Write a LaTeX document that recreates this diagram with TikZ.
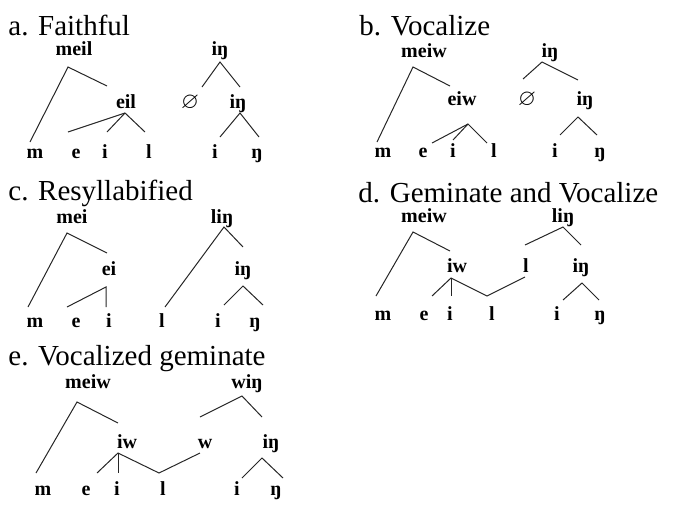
\documentclass[tikz,border=0pt]{standalone}
\usepackage{amssymb}
\usepackage{fontspec}
\setmainfont{Liberation Serif}

\begin{document}
\begin{tikzpicture}[x=0.5pt,y=-0.5pt,
  head/.style={font=\fontsize{14.5}{17}\selectfont, inner sep=0pt, anchor=base west},
  lab/.style={font=\bfseries\fontsize{10}{12}\selectfont, inner sep=0pt, anchor=base},
  nul/.style={font=\fontsize{11.5}{14}\selectfont, inner sep=0pt, anchor=base},
  br/.style={line width=0.5pt, black!85}]
\useasboundingbox (0,0) rectangle (673,504);
% headings
\node [head] (ha) at (8,35) {a. Faithful};
\node [head] (hb) at (359,35) {b. Vocalize};
\node [head] (hc) at (8,200) {c. Resyllabified};
\node [head] (hd) at (358,202) {d. Geminate and Vocalize};
\node [head] (he) at (8,365) {e. Vocalized geminate};
% a. Faithful
\node [lab] (a1) at (74,55) {meil};
\node [lab] (a2) at (126,108) {eil};
\node [lab] (am) at (35,158) {m};
\node [lab] (ae) at (76,158) {e};
\node [lab] (ai) at (105,158) {i};
\node [lab] (al) at (149,158) {l};
\node [lab] (a3) at (220,55) {iŋ};
\node [nul] (a0) at (190,108) {$\varnothing$};
\node [lab] (a4) at (238,108) {iŋ};
\node [lab] (ai2) at (215,158) {i};
\node [lab] (ang) at (257,158) {ŋ};
\draw [br] ([shift={(-5,-16)}]am.base) -- ([shift={(-6,12)}]a1.base) -- ([shift={(-19,-22)}]a2.base);
\draw [br] ([shift={(-8,-26)}]ae.base) -- ([shift={(-1,5)}]a2.base) -- ([shift={(-4,-26)}]al.base);
\draw [br] ([shift={(-1,5)}]a2.base) -- ([shift={(2,-26)}]ai.base);
\draw [br] ([shift={(12,-21)}]a0.base) -- ([shift={(0,7)}]a3.base) -- ([shift={(2,-21)}]a4.base);
\draw [br] ([shift={(5,-21)}]ai2.base) -- ([shift={(2,5)}]a4.base) -- ([shift={(2,-21)}]ang.base);
% b. Vocalize
\node [lab] (b1) at (424,57) {meiw};
\node [lab] (b2) at (462,105) {eiw};
\node [lab] (bm) at (383,157) {m};
\node [lab] (be) at (423,157) {e};
\node [lab] (bi) at (453,157) {i};
\node [lab] (bl) at (494,157) {l};
\node [lab] (b3) at (550,57) {iŋ};
\node [nul] (b0) at (527,105) {$\varnothing$};
\node [lab] (b4) at (585,105) {iŋ};
\node [lab] (bi2) at (555,157) {i};
\node [lab] (bng) at (600,157) {ŋ};
\draw [br] ([shift={(-6,-15)}]bm.base) -- ([shift={(-11,10)}]b1.base) -- ([shift={(-12,-19)}]b2.base);
\draw [br] ([shift={(9,-14)}]be.base) -- ([shift={(6,19)}]b2.base) -- ([shift={(-7,-14)}]bl.base);
\draw [br] ([shift={(6,19)}]b2.base) -- ([shift={(0,-17)}]bi.base);
\draw [br] ([shift={(-4,-26)}]b0.base) -- ([shift={(-8,5)}]b3.base) -- ([shift={(-7,-25)}]b4.base);
\draw [br] ([shift={(5,-22)}]bi2.base) -- ([shift={(-7,12)}]b4.base) -- ([shift={(-3,-22)}]bng.base);
% c. Resyllabified
\node [lab] (c1) at (72,223) {mei};
\node [lab] (c2) at (109,275) {ei};
\node [lab] (cm) at (35,327) {m};
\node [lab] (ce) at (76,327) {e};
\node [lab] (ci) at (109,327) {i};
\node [lab] (c3) at (222,223) {liŋ};
\node [lab] (c4) at (243,275) {iŋ};
\node [lab] (cl) at (162,327) {l};
\node [lab] (ci2) at (218,327) {i};
\node [lab] (cng) at (255,327) {ŋ};
\draw [br] ([shift={(-7,-20)}]cm.base) -- ([shift={(-5,10)}]c1.base) -- ([shift={(-2,-22)}]c2.base);
\draw [br] ([shift={(-9,-20)}]ce.base) -- ([shift={(-3,12)}]c2.base) -- ([shift={(-3,-20)}]ci.base);
\draw [br] ([shift={(3,-20)}]cl.base) -- ([shift={(2,4)}]c3.base) -- ([shift={(0,-28)}]c4.base);
\draw [br] ([shift={(6,-22)}]ci2.base) -- ([shift={(0,11)}]c4.base) -- ([shift={(8,-22)}]cng.base);
% d. Geminate and Vocalize
\node [lab] (d1) at (424,222) {meiw};
\node [lab] (d2) at (457,272) {iw};
\node [lab] (dm) at (383,320) {m};
\node [lab] (de) at (424,320) {e};
\node [lab] (di) at (450,320) {i};
\node [lab] (dl) at (492,320) {l};
\node [lab] (dl2) at (526,272) {l};
\node [lab] (d3) at (563,222) {liŋ};
\node [lab] (d4) at (581,272) {iŋ};
\node [lab] (di2) at (557,320) {i};
\node [lab] (dng) at (600,320) {ŋ};
\draw [br] ([shift={(-7,-24)}]dm.base) -- ([shift={(-11,10)}]d1.base) -- ([shift={(-7,-21)}]d2.base);
\draw [br] ([shift={(8,-24)}]de.base) -- ([shift={(-6,6)}]d2.base) -- ([shift={(-5,-24)}]dl.base) -- ([shift={(-1,5)}]dl2.base);
\draw [br] ([shift={(-6,6)}]d2.base) -- ([shift={(1,-24)}]di.base);
\draw [br] ([shift={(-1,-27)}]dl2.base) -- ([shift={(0,5)}]d3.base) -- ([shift={(0,-27)}]d4.base);
\draw [br] ([shift={(6,-20)}]di2.base) -- ([shift={(1,11)}]d4.base) -- ([shift={(-1,-20)}]dng.base);
% e. Vocalized geminate
\node [lab] (e1) at (88,388) {meiw};
\node [lab] (e2) at (127,448) {iw};
\node [lab] (em) at (43,495) {m};
\node [lab] (ee) at (86,495) {e};
\node [lab] (ei) at (117,495) {i};
\node [lab] (el) at (163,495) {l};
\node [lab] (ew) at (205,448) {w};
\node [lab] (e3) at (247,388) {wiŋ};
\node [lab] (e4) at (271,448) {iŋ};
\node [lab] (ei2) at (237,495) {i};
\node [lab] (eng) at (276,495) {ŋ};
\draw [br] ([shift={(-7,-22)}]em.base) -- ([shift={(-11,14)}]e1.base) -- ([shift={(-9,-25)}]e2.base);
\draw [br] ([shift={(11,-22)}]ee.base) -- ([shift={(-9,5)}]e2.base) -- ([shift={(-4,-22)}]el.base) -- ([shift={(-5,5)}]ew.base);
\draw [br] ([shift={(-9,5)}]e2.base) -- ([shift={(1,-22)}]ei.base);
\draw [br] ([shift={(-5,-31)}]ew.base) -- ([shift={(-5,8)}]e3.base) -- ([shift={(-9,-31)}]e4.base);
\draw [br] ([shift={(5,-17)}]ei2.base) -- ([shift={(-9,10)}]e4.base) -- ([shift={(7,-17)}]eng.base);
\end{tikzpicture}
\end{document}
